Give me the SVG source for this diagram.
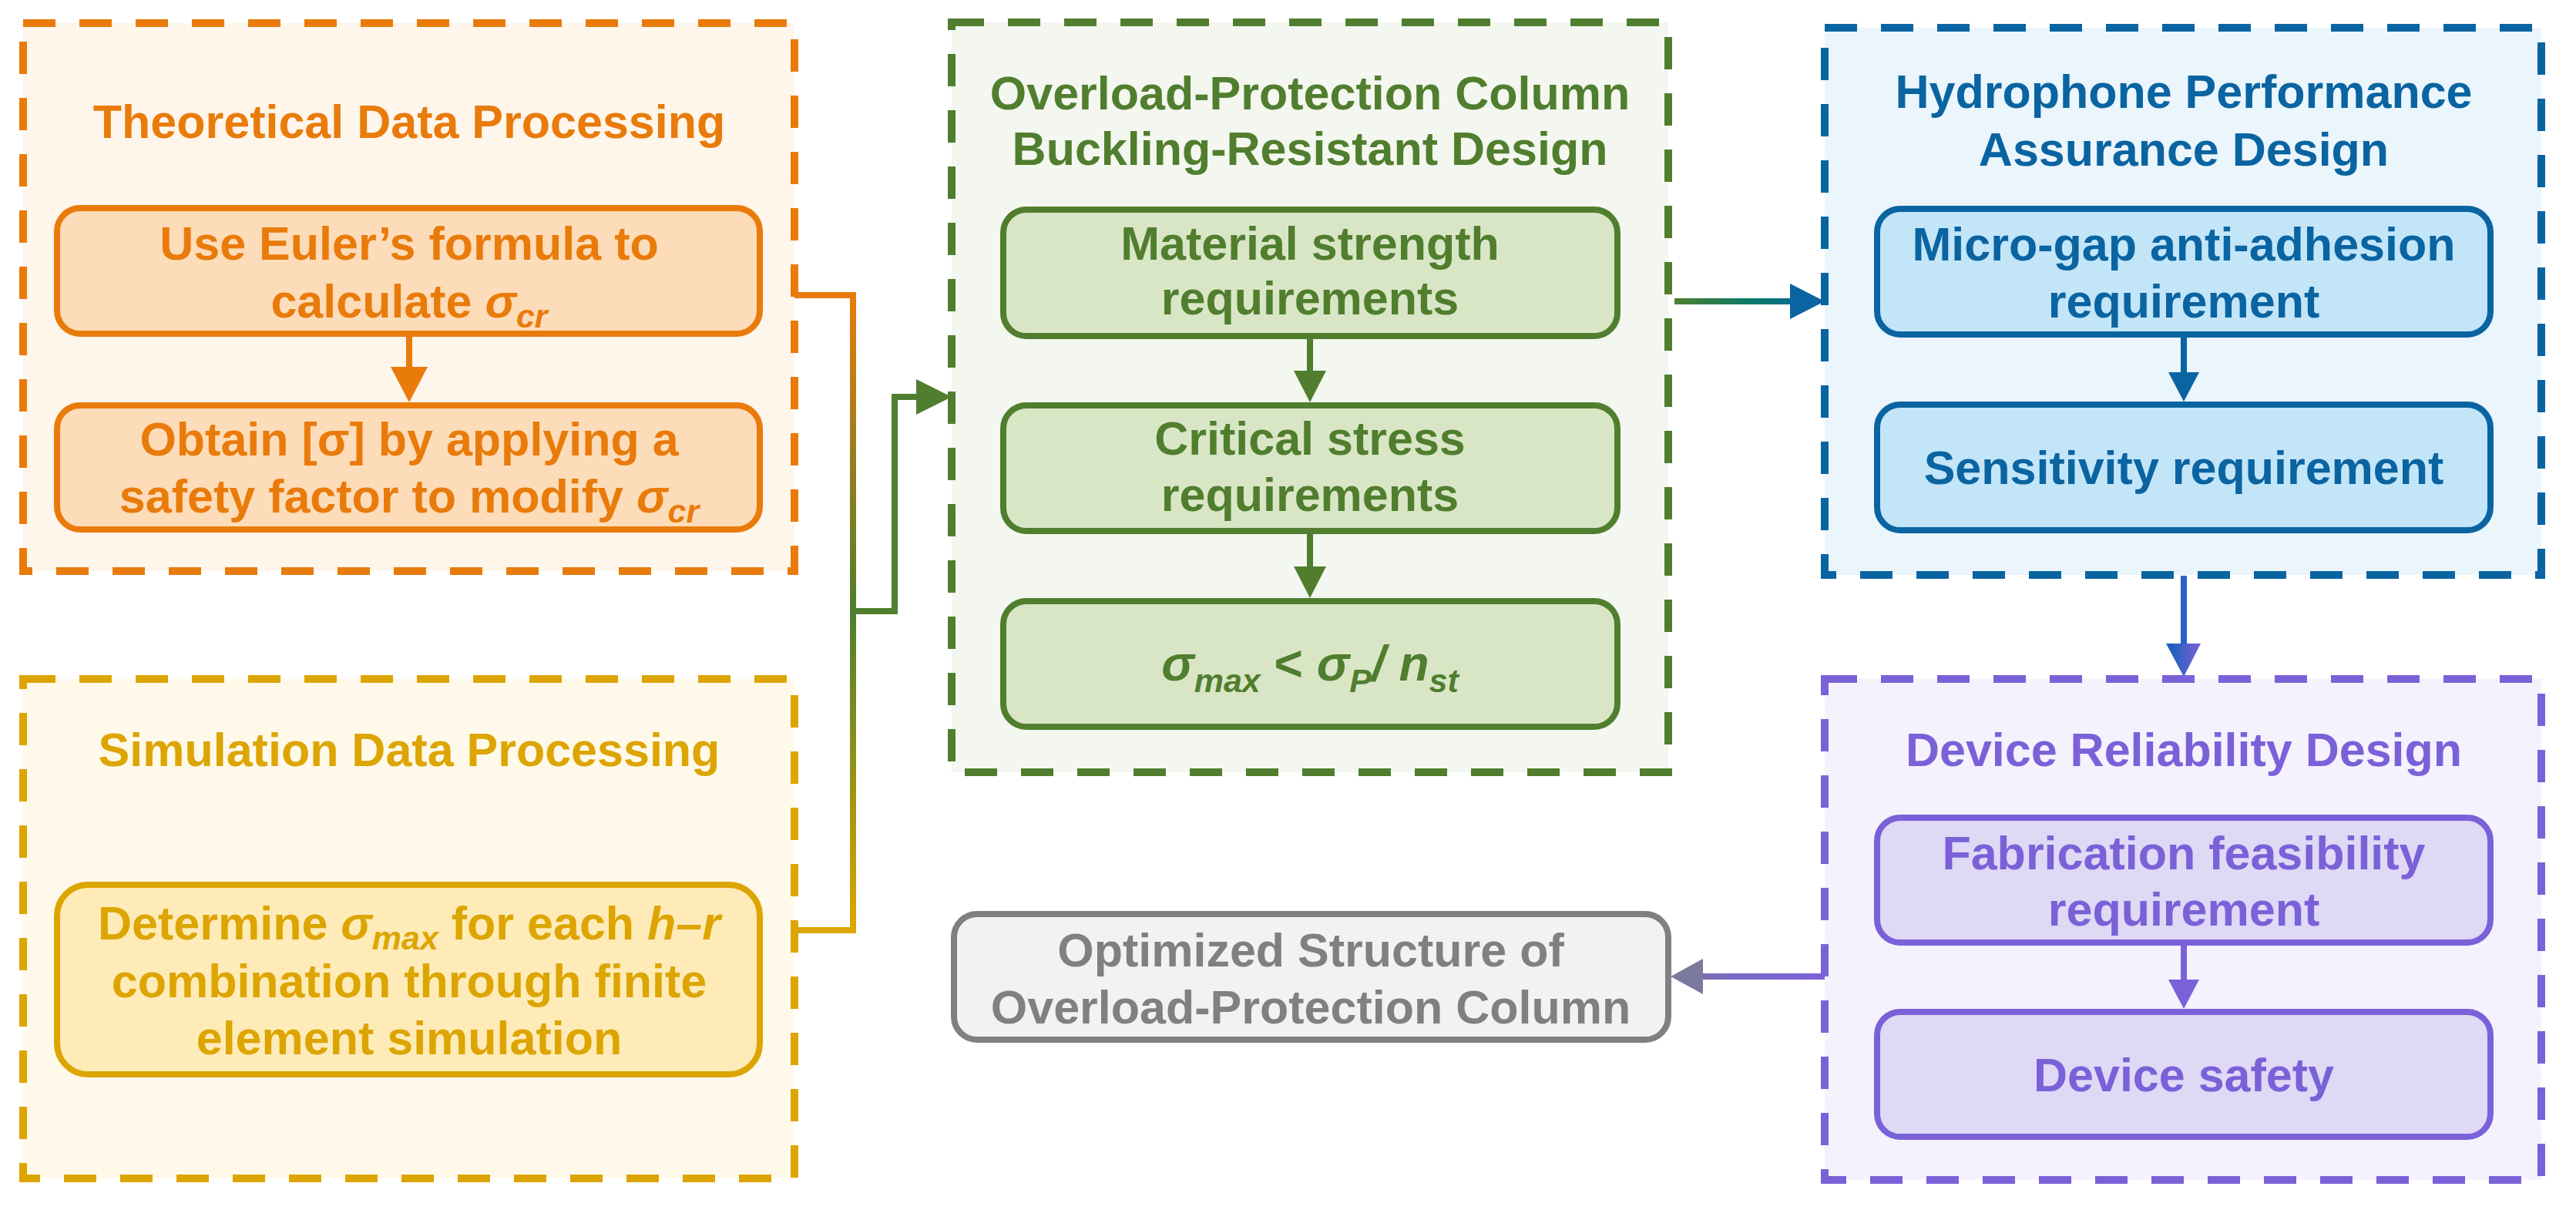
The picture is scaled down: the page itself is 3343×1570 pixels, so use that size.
<svg xmlns="http://www.w3.org/2000/svg" width="3343" height="1570" viewBox="0 0 3343 1570">
<defs>
<style>
text{font-family:"Liberation Sans",Arial,sans-serif;font-weight:bold;font-size:61px;text-anchor:middle}
.it{font-style:italic}
.sub{font-size:43px;font-style:italic}
.big{font-size:64px}
.outer{stroke-width:10;stroke-dasharray:42 31}
.inner{stroke-width:8}
.ln{fill:none;stroke-width:8}
.o{fill:#E97B0B}.os{stroke:#E97B0B}
.y{fill:#DDA502}.ys{stroke:#DDA502}
.g{fill:#507E2E}.gs{stroke:#507E2E}
.b{fill:#0A64A1}.bs{stroke:#0A64A1}
.p{fill:#7B61D8}.ps{stroke:#7B61D8}
.k{fill:#808080}.ks{stroke:#808080}
</style>
<linearGradient id="gLeft" gradientUnits="userSpaceOnUse" x1="1107" y1="383" x2="1107" y2="1207">
<stop offset="0" stop-color="#E97B0B"/><stop offset="0.5" stop-color="#4E7F2E"/><stop offset="1" stop-color="#DDA502"/>
</linearGradient>
<linearGradient id="gGB" gradientUnits="userSpaceOnUse" x1="2173" y1="0" x2="2368" y2="0">
<stop offset="0" stop-color="#507E2E"/><stop offset="0.5" stop-color="#0A7A6A"/><stop offset="1" stop-color="#0A64A1"/>
</linearGradient>
<linearGradient id="gBP" gradientUnits="userSpaceOnUse" x1="2811" y1="0" x2="2856" y2="0">
<stop offset="0" stop-color="#0D62B8"/><stop offset="1" stop-color="#7B61D8"/>
</linearGradient>
<linearGradient id="gPK" gradientUnits="userSpaceOnUse" x1="2368" y1="0" x2="2168" y2="0">
<stop offset="0" stop-color="#7B61D8"/><stop offset="0.6" stop-color="#7A66C4"/><stop offset="1" stop-color="#7A7A96"/>
</linearGradient>
</defs>
<rect width="3343" height="1570" fill="#FFFFFF"/>

<g id="theoretical">
<rect class="outer os" x="30" y="30" width="1001" height="711" fill="#FEF5EB"/>
<text class="o" x="531" y="179">Theoretical Data Processing</text>
<rect class="inner os" x="74" y="270" width="912" height="163" rx="30" fill="#FDDCB9"/>
<text class="o" x="531" y="337">Use Euler’s formula to</text>
<text class="o" x="531" y="412">calculate <tspan class="it">σ</tspan><tspan class="sub" dy="13">cr</tspan></text>
<rect class="inner os" x="74" y="526" width="912" height="161" rx="30" fill="#FDDCB9"/>
<text class="o" x="531" y="591">Obtain [σ] by applying a</text>
<text class="o" x="531" y="665">safety factor to modify <tspan class="it">σ</tspan><tspan class="sub" dy="13">cr</tspan></text>
<line class="ln os" x1="531" y1="433" x2="531" y2="478"/>
<polygon class="o" points="507,476 555,476 531,522"/>
</g>

<g id="simulation">
<rect class="outer ys" x="30" y="881" width="1001" height="648" fill="#FEF9E9"/>
<text class="y" x="531" y="994">Simulation Data Processing</text>
<rect class="inner ys" x="74" y="1148" width="912" height="246" rx="40" fill="#FEEBB8"/>
<text class="y" x="531" y="1219">Determine <tspan class="it">σ</tspan><tspan class="sub" dy="13">max</tspan><tspan dy="-13"> for each </tspan><tspan class="it">h–r</tspan></text>
<text class="y" x="531" y="1294">combination through finite</text>
<text class="y" x="531" y="1368">element simulation</text>
</g>

<g id="buckling">
<rect class="outer gs" x="1235" y="29" width="930" height="973" fill="#F3F7EF"/>
<text class="g" x="1700" y="142">Overload-Protection Column</text>
<text class="g" x="1700" y="214">Buckling-Resistant Design</text>
<rect class="inner gs" x="1302" y="272" width="797" height="164" rx="30" fill="#D9E6C6"/>
<text class="g" x="1700" y="337">Material strength</text>
<text class="g" x="1700" y="408">requirements</text>
<rect class="inner gs" x="1302" y="526" width="797" height="163" rx="30" fill="#D9E6C6"/>
<text class="g" x="1700" y="590">Critical stress</text>
<text class="g" x="1700" y="663">requirements</text>
<rect class="inner gs" x="1302" y="780" width="797" height="163" rx="30" fill="#D9E6C6"/>
<text class="g big" x="1700" y="883"><tspan class="it">σ</tspan><tspan class="sub" dy="15">max</tspan><tspan dy="-15"> &lt; </tspan><tspan class="it">σ</tspan><tspan class="sub" dy="15">P</tspan><tspan class="it" dy="-15">/ n</tspan><tspan class="sub" dy="15">st</tspan></text>
<line class="ln gs" x1="1700" y1="436" x2="1700" y2="484"/>
<polygon class="g" points="1679,481 1721,481 1700,522"/>
<line class="ln gs" x1="1700" y1="689" x2="1700" y2="738"/>
<polygon class="g" points="1679,735 1721,735 1700,776"/>
</g>

<g id="hydrophone">
<rect class="outer bs" x="2368" y="36" width="930" height="710" fill="#EBF5FC"/>
<text class="b" x="2834" y="140">Hydrophone Performance</text>
<text class="b" x="2834" y="215">Assurance Design</text>
<rect class="inner bs" x="2436" y="271" width="796" height="163" rx="30" fill="#C3E5F8"/>
<text class="b" x="2834" y="338">Micro-gap anti-adhesion</text>
<text class="b" x="2834" y="412">requirement</text>
<rect class="inner bs" x="2436" y="525" width="796" height="163" rx="30" fill="#C3E5F8"/>
<text class="b" x="2834" y="628">Sensitivity requirement</text>
<line class="ln bs" x1="2834" y1="434" x2="2834" y2="486"/>
<polygon class="b" points="2814,483 2854,483 2834,521"/>
</g>

<g id="reliability">
<rect class="outer ps" x="2368" y="881" width="930" height="650" fill="#F4F2FC"/>
<text class="p" x="2834" y="994">Device Reliability Design</text>
<rect class="inner ps" x="2436" y="1061" width="796" height="162" rx="30" fill="#DED9F5"/>
<text class="p" x="2834" y="1128">Fabrication feasibility</text>
<text class="p" x="2834" y="1201">requirement</text>
<rect class="inner ps" x="2436" y="1313" width="796" height="162" rx="30" fill="#DED9F5"/>
<text class="p" x="2834" y="1416">Device safety</text>
<line class="ln ps" x1="2834" y1="1223" x2="2834" y2="1274"/>
<polygon class="p" points="2814,1271 2854,1271 2834,1309"/>
</g>

<g id="optimized">
<rect class="inner ks" x="1238" y="1186" width="927" height="163" rx="30" fill="#F2F2F2"/>
<text class="k" x="1701" y="1254">Optimized Structure of</text>
<text class="k" x="1701" y="1328">Overload-Protection Column</text>
</g>

<g id="connectors">
<polyline class="ln" stroke="#E97B0B" points="1031,383 1111,383"/>
<polyline class="ln" stroke="#DDA502" points="1031,1207 1111,1207"/>
<line class="ln" stroke="url(#gLeft)" x1="1107" y1="379" x2="1107" y2="1211"/>
<polyline class="ln gs" points="1107,793 1161,793 1161,515 1192,515"/>
<polygon class="g" points="1189,492 1235,515 1189,538"/>
<line class="ln" stroke="url(#gGB)" x1="2173" y1="391" x2="2326" y2="391"/>
<polygon fill="#0A64A1" points="2323,368 2368,391 2323,414"/>
<line class="ln" stroke="#2D5FC4" x1="2834" y1="747" x2="2834" y2="838"/>
<polygon fill="url(#gBP)" points="2811,835 2856,835 2834,878"/>
<line class="ln" stroke="url(#gPK)" x1="2368" y1="1267" x2="2207" y2="1267"/>
<polygon fill="#7A7A9E" points="2210,1244 2168,1267 2210,1290"/>
</g>
</svg>
